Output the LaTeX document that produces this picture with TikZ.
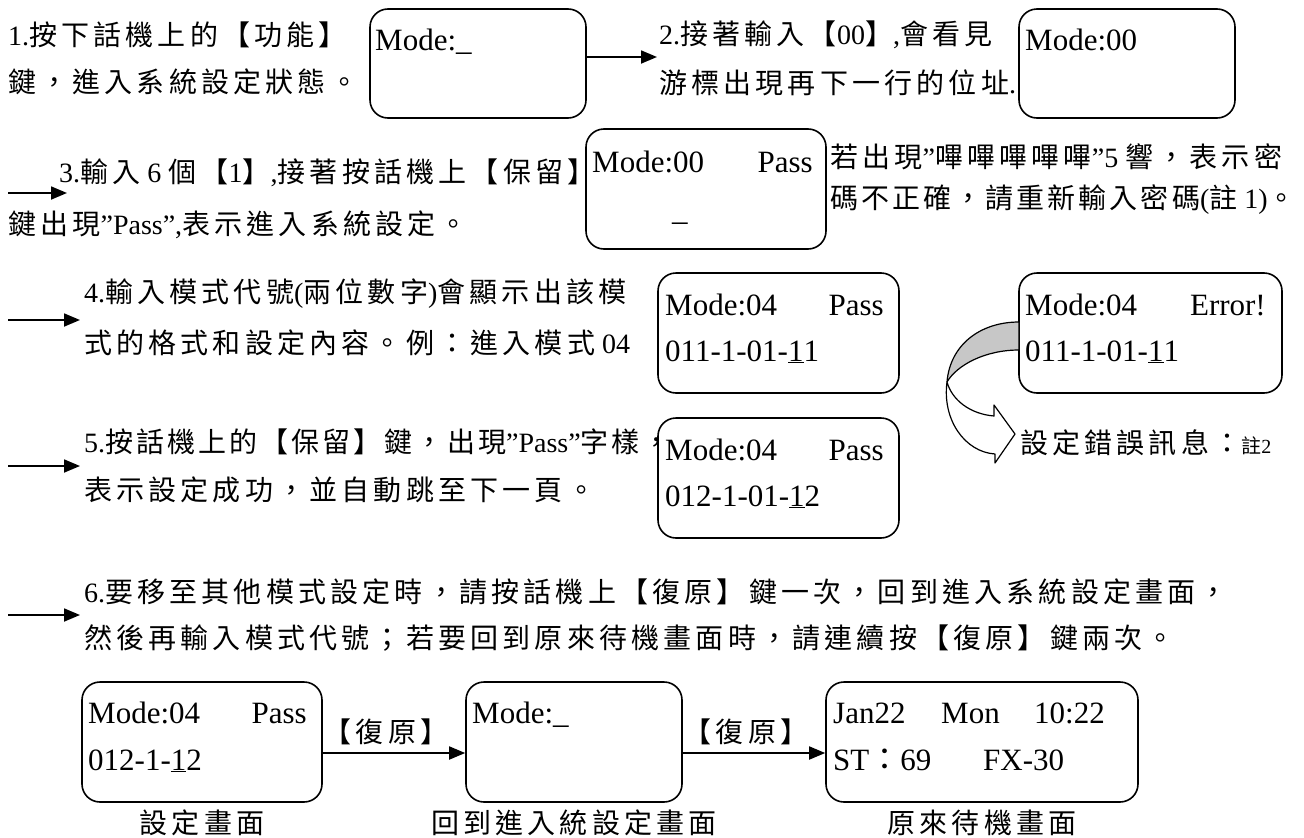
\documentclass[tikz,border=0pt]{standalone}
\usepackage{fontspec}
\setmainfont{Liberation Serif}
\newfontfamily\cjk[LetterSpace=15]{Noto Sans CJK TC}
\newfontfamily\cjkt[LetterSpace=11]{Noto Sans CJK TC}
\usetikzlibrary{arrows.meta}
\newcommand\zh[1]{{\cjk #1}}
\newcommand\zt[1]{{\cjkt #1}}
\begin{document}
\begin{tikzpicture}[x=1pt,y=-1pt,
  lcd/.style={draw, line width=1.6pt, rounded corners=18pt, inner sep=0pt},
  arr/.style={line width=1.8pt, -{Triangle[length=16pt,width=13pt]}},
  lt/.style={inner sep=0pt, font=\fontsize{31}{31}\selectfont},
  tx/.style={inner sep=0pt, anchor=west, font=\fontsize{28}{30}\selectfont},
  lab/.style={inner sep=0pt, font=\fontsize{28}{30}\selectfont}]
\fill[white] (0,0) rectangle (1304,838);
\useasboundingbox (0,0) rectangle (1304,838);

% ---------- row 1 ----------
\node[tx] (t1a) at (8,35) {1.\zh{按下話機上的【功能】}};
\node[tx] (t1b) at (8,82) {\zh{鍵，進入系統設定狀態。}};
\node[lcd, minimum width=216pt, minimum height=109pt] (b1) at (478,63.5) {};
\node[lt, anchor=base west] (b1l1) at (375,50) {Mode:\_};
\coordinate (c1e) at (657,57);
\draw[arr] (b1.east |- c1e) -- (c1e);
\node[tx] (t2a) at (659,35) {2.\zh{接著輸入【}00\zh{】},\zh{會看見}};
\node[tx] (t2b) at (659,83) {\zh{游標出現再下一行的位址}.};
\node[lcd, minimum width=216pt, minimum height=109pt] (b2) at (1127,63.5) {};
\node[lt, anchor=base west] (b2l1) at (1025,50) {Mode:00};

% ---------- row 3 ----------
\coordinate (a3s) at (8,193);
\coordinate (a3e) at (67,193);
\draw[arr] (a3s) -- (a3e);
\node[tx] (t3a) at (59,173) {3.\zh{輸入} 6 \zh{個【}1\zh{】},\zh{接著按話機上【保留】}};
\node[tx] (t3b) at (8,225) {\zh{鍵出現}”Pass”,\zh{表示進入系統設定。}};
\node[lcd, minimum width=240pt, minimum height=120pt] (b3) at (706,189) {};
\node[lt, anchor=base west] (b3l1) at (592,172) {Mode:00};
\node[lt, anchor=base east] (b3r1) at (813,172) {Pass};
\node[lt, anchor=base west] (b3l2) at (672,220) {\_};
\node[tx] (tw1) at (830,157) {\zh{若出現}”\zh{嗶嗶嗶嗶嗶}”5 \zh{響，表示密}};
\node[tx] (tw2) at (830,200) {\zt{碼不正確，請重新輸入密碼}(\zt{註} 1)\zt{。}};

% ---------- row 4 ----------
\coordinate (a4s) at (8,320);
\coordinate (a4e) at (80,320);
\draw[arr] (a4s) -- (a4e);
\node[tx] (t4a) at (84,294) {4.\zh{輸入模式代號}(\zh{兩位數字})\zh{會顯示出該模}};
\node[tx] (t4b) at (84,343) {\zh{式的格式和設定內容。例：進入模式} 04};
\node[lcd, minimum width=241pt, minimum height=120pt] (b4) at (778.5,333) {};
\node[lt, anchor=base west] (b4l1) at (665,315) {Mode:04};
\node[lt, anchor=base east] (b4r1) at (884,315) {Pass};
\node[lt, anchor=base west] (b4l2) at (665,361) {011-1-01-\underline{1}1};

\node[lcd, minimum width=263pt, minimum height=120pt] (be) at (1150.5,333) {};
\node[lt, anchor=base west] (bel1) at (1025,315) {Mode:04};
\node[lt, anchor=base east] (ber1) at (1266,315) {Error!};
\node[lt, anchor=base west] (bel2) at (1025,361) {011-1-01-\underline{1}1};

% curved block arrow
\filldraw[fill=white, line width=1.2pt, line join=round]
  (947,382) .. controls (942,420) and (965,452) .. (995,454)
  -- (995,463) -- (1015,434) -- (994,405) -- (994,416)
  .. controls (970,414) and (952,400) .. (947,382) -- cycle;
\filldraw[fill=black!22, line width=1.2pt, line join=round]
  (1019,322) .. controls (980,322) and (950,345) .. (947,382)
  .. controls (957,365) and (985,350) .. (1019,350) -- cycle;
\node[tx] (terr) at (1020,443) {\zh{設定錯誤訊息：}{\fontsize{20}{20}\selectfont\zh{註}2}};

% ---------- row 5 ----------
\coordinate (a5s) at (8,466);
\coordinate (a5e) at (80,466);
\draw[arr] (a5s) -- (a5e);
\node[tx] (t5a) at (84,442) {5.\zt{按話機上的【保留】鍵，出現}”Pass”\zt{字樣，}};
\node[tx] (t5b) at (84,490) {\zh{表示設定成功，並自動跳至下一頁。}};
\node[lcd, minimum width=241pt, minimum height=120pt] (b5) at (778.5,478) {};
\node[lt, anchor=base west] (b5l1) at (665,460) {Mode:04};
\node[lt, anchor=base east] (b5r1) at (884,460) {Pass};
\node[lt, anchor=base west] (b5l2) at (665,506) {012-1-01-\underline{1}2};

% ---------- row 6 ----------
\coordinate (a6s) at (8,615);
\coordinate (a6e) at (80,615);
\draw[arr] (a6s) -- (a6e);
\node[tx] (t6a) at (84,592) {6.\zh{要移至其他模式設定時，請按話機上【復原】鍵一次，回到進入系統設定畫面，}};
\node[tx] (t6b) at (84,638) {\zh{然後再輸入模式代號；若要回到原來待機畫面時，請連續按【復原】鍵兩次。}};

% ---------- bottom row ----------
\node[lcd, minimum width=240pt, minimum height=120pt] (bA) at (202,742) {};
\node[lt, anchor=base west] (bAl1) at (88,723) {Mode:04};
\node[lt, anchor=base east] (bAr1) at (307,723) {Pass};
\node[lt, anchor=base west] (bAl2) at (88,770) {012-1-\underline{1}2};

\node[lcd, minimum width=216pt, minimum height=120pt] (bB) at (574,742) {};
\node[lt, anchor=base west] (bBl1) at (472,723) {Mode:\_};

\node[lcd, minimum width=312pt, minimum height=120pt] (bC) at (982,742) {};
\node[lt, anchor=base west] (bCa) at (833,723) {Jan22};
\node[lt, anchor=base west] (bCb) at (941,723) {Mon};
\node[lt, anchor=base west] (bCc) at (1034,723) {10:22};
\node[lt, anchor=base west] (bCd) at (833,770) {ST\zh{：}69};
\node[lt, anchor=base west] (bCe) at (983,770) {FX-30};

\coordinate (cab) at (0,753);
\draw[arr] (bA.east |- cab) -- (bB.west |- cab);
\draw[arr] (bB.east |- cab) -- (bC.west |- cab);
\node[lab] (lAB) at (386,732) {\zh{【復原】}};
\node[lab] (lBC) at (746,732) {\zh{【復原】}};

\node[lab] (capA) at (202,823) {\zh{設定畫面}};
\node[lab] (capB) at (574,823) {\zh{回到進入統設定畫面}};
\node[lab] (capC) at (982,823) {\zh{原來待機畫面}};
\end{tikzpicture}
\end{document}
